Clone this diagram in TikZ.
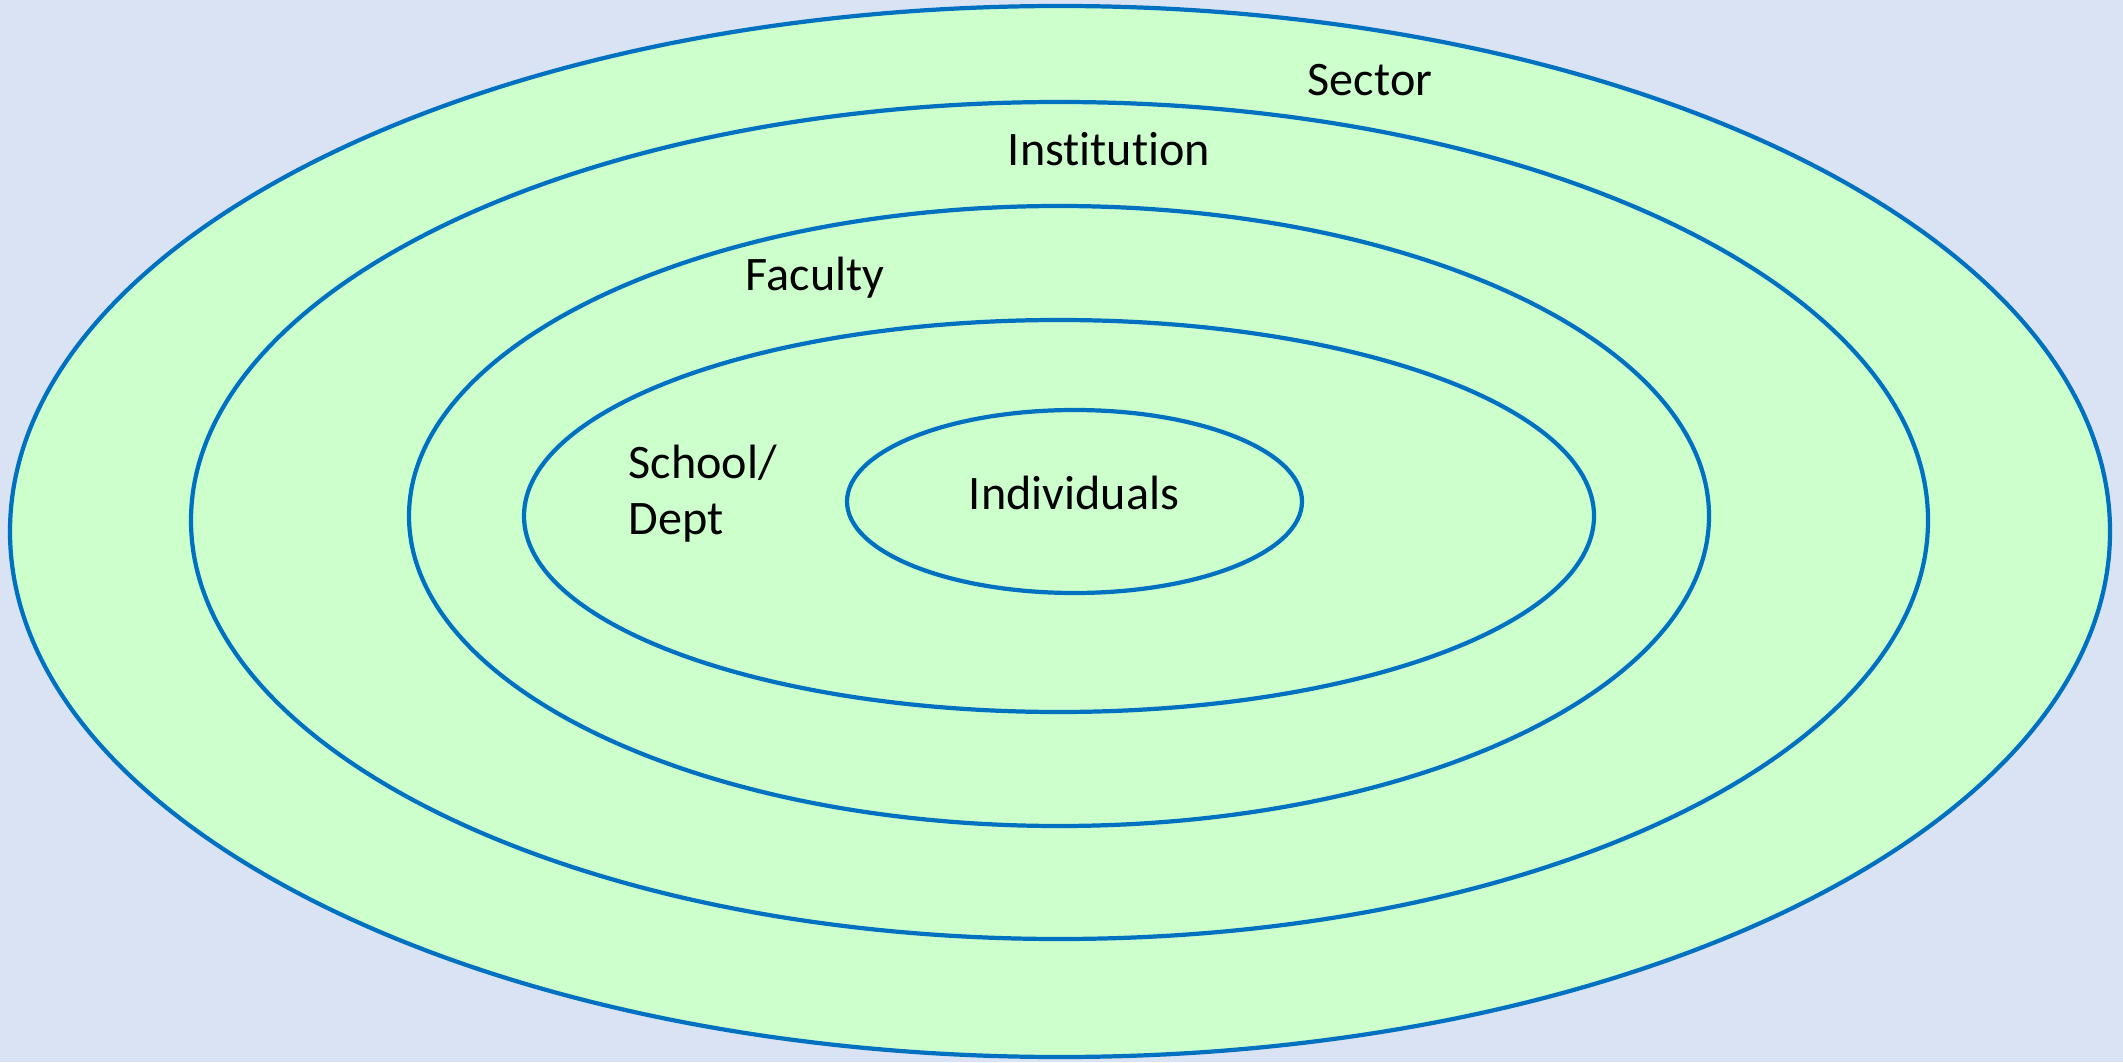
\documentclass[tikz,border=0pt]{standalone}
\usepackage{fontspec}
\setmainfont[Ligatures=NoCommon]{Carlito}
\definecolor{bgblue}{HTML}{DAE3F3}
\definecolor{ringfill}{HTML}{CCFFCC}
\definecolor{ringline}{HTML}{0070C0}
\tikzset{
  ring/.style={draw=ringline, fill=ringfill, line width=1.2pt},
  lbl/.style={inner sep=0pt, font=\fontsize{13.7}{15.8}\selectfont}
}
\begin{document}
\begin{tikzpicture}
\fill[bgblue] (0,0) rectangle (21.23,10.62);
\useasboundingbox (0,0) rectangle (21.23,10.62);
% rings, outside in
\draw[ring] (10.60,5.305) ellipse (10.50 and 5.255);
\draw[ring] (10.595,5.415) ellipse (8.685 and 4.185);
\draw[ring] (10.59,5.46) ellipse (6.50 and 3.10);
\draw[ring] (10.59,5.46) ellipse (5.35 and 1.96);
\draw[ring] (10.745,5.605) ellipse (2.275 and 0.915);
% labels
\node[lbl, anchor=base] (sector) at (13.70,9.66) {Sector};
\node[lbl, anchor=base] (institution) at (11.09,8.96) {Institution};
\node[lbl, anchor=base] (faculty) at (8.15,7.71) {Faculty};
\node[lbl, anchor=base west, align=left] (school) at (6.28,5.28) {School/\\Dept};
\node[lbl, anchor=base] (individuals) at (10.74,5.52) {Individuals};
\end{tikzpicture}
\end{document}
